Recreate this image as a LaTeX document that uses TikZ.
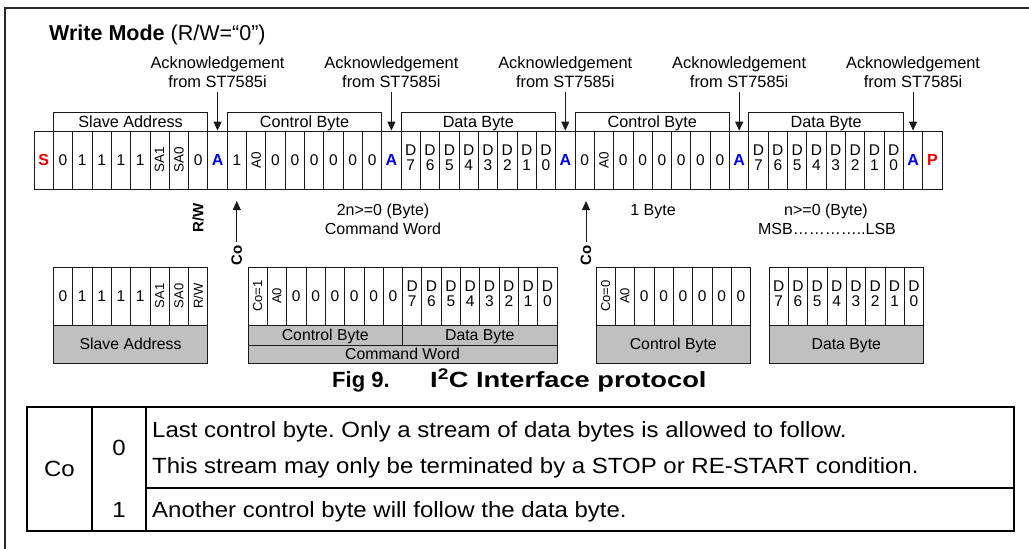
\documentclass[tikz,border=0pt]{standalone}
\usepackage{fontspec}
\setmainfont{Liberation Sans}
\newfontfamily\tblfont[FakeStretch=1.09]{Liberation Sans}
\newfontfamily\capwide[FakeStretch=1.24]{Liberation Sans}
\usetikzlibrary{arrows.meta}
\frenchspacing
\definecolor{framec}{RGB}{40,40,40}
\definecolor{linec}{RGB}{25,25,25}
\definecolor{grayfill}{RGB}{192,192,192}
\definecolor{ared}{RGB}{240,0,0}
\definecolor{ablue}{RGB}{0,0,240}
\newcommand\fs[1]{\fontsize{#1}{#1}\selectfont}
\newcommand\rt[1]{\rotatebox{90}{\fs{13.5}#1}}
\newcommand\rtb[1]{\rotatebox{90}{\fs{13}#1}}
\newcommand\dd[1]{\begin{tabular}{@{}c@{}}D\\#1\end{tabular}}
\newcommand\bitS{\textcolor{ared}{\bfseries\fs{16}S}}
\newcommand\bitP{\textcolor{ared}{\bfseries\fs{16}P}}
\newcommand\bitA{\textcolor{ablue}{\bfseries\fs{16}A}}
\tikzset{
  bit/.style={draw=linec, line width=0.8pt, minimum width=19.32pt, minimum height=58pt,
    inner sep=0pt, font=\fontsize{15.5}{15}\selectfont},
  lblbox/.style={draw=linec, line width=0.8pt, minimum width=154.56pt, minimum height=19pt,
    inner sep=0pt, text height=11.5pt, text depth=0pt, font=\fs{16.2}},
  ack/.style={align=center, inner sep=0pt, font=\fontsize{16.4}{19}\selectfont},
  arr/.style={draw=linec, line width=0.9pt, -{Triangle[length=9pt,width=8pt]}},
  lowtxt/.style={inner sep=0pt, font=\fs{16}},
  rotb/.style={rotate=90, inner sep=0pt, font=\bfseries\fs{15}},
  graybox/.style={draw=linec, line width=0.8pt, fill=grayfill, inner sep=0pt,
    text height=11.5pt, text depth=0pt, font=\fs{15.8}},
  tbl/.style={draw=black, line width=1.6pt},
  tbltxt/.style={inner sep=0pt, font=\tblfont\fs{22}}
}
\begin{document}
\begin{tikzpicture}[x=1pt,y=-1pt]
\useasboundingbox (0,0) rectangle (1029,549);
\fill[white] (0,0) rectangle (1029,549);
% frame
\draw[framec, line width=2.2pt] (5,549) -- (5,8) -- (1029,8);
% title
\node[anchor=base west, inner sep=0pt] (title) at (49,40)
  {\bfseries\fs{21.5}Write Mode \mdseries(R/W=“0”)};
% main row
\foreach \c [count=\i from 0] in {\bitS,0,1,1,1,1,{\rt{SA1}},{\rt{SA0}},0,\bitA,
  1,{\rt{A0}},0,0,0,0,0,0,\bitA,
  {\dd7},{\dd6},{\dd5},{\dd4},{\dd3},{\dd2},{\dd1},{\dd0},\bitA,
  0,{\rt{A0}},0,0,0,0,0,0,\bitA,
  {\dd7},{\dd6},{\dd5},{\dd4},{\dd3},{\dd2},{\dd1},{\dd0},\bitA,\bitP}
  \node[bit] (m\i) at ({34+(\i+0.5)*19.32},160) {\c};
% label boxes
\foreach \a/\b/\t [count=\k] in {1/8/Slave Address,10/17/Control Byte,19/26/Data Byte,
  28/35/Control Byte,37/44/Data Byte}
  \node[lblbox] (lb\k) at ({34+(\a+\b+1)/2*19.32},121.5) {\t};
% acknowledgements
\foreach \i [count=\k] in {9,18,27,36,45}{
  \node[ack] (ack\k) at ({34+(\i+0.5)*19.32},72) {Acknowledgement\\from ST7585i};
  \draw[arr, shorten <=4.5pt] (ack\k.south) -- (m\i.north);
}
% R/W and Co markers
\node[rotb] (rw) at (198.2,218) {R/W};
\node[rotb] (co1) at (236.8,255) {Co};
\coordinate (co1t) at (236.8,201);
\draw[arr, shorten <=3pt] (co1.east) -- (co1t);
\node[rotb] (co2) at (586,255) {Co};
\coordinate (co2t) at (586,201);
\draw[arr, shorten <=3pt] (co2.east) -- (co2t);
% lower texts
\node[lowtxt, anchor=base] (t1) at (383,215.5) {2n>=0 (Byte)};
\node[lowtxt, anchor=base] (t2) at (383,234.5) {Command Word};
\node[lowtxt, anchor=base] (t3) at (653,215.5) {1 Byte};
\node[lowtxt, anchor=base] (t4) at (826,215.5) {n>=0 (Byte)};
\node[lowtxt, anchor=base] (t5) at (827,234.5) {MSB…………..LSB};
% lower box 1
\foreach \c [count=\i from 0] in {0,1,1,1,1,{\rtb{SA1}},{\rtb{SA0}},{\rtb{R/W}}}
  \node[bit] (s\i) at ({53.3+(\i+0.5)*19.32},296) {\c};
\node[graybox, minimum width=154.56pt, minimum height=38pt] (sg) at (130.58,344) {Slave Address};
% lower box 2
\foreach \c [count=\i from 0] in {{\rtb{Co=1}},{\rtb{A0}},0,0,0,0,0,0,
  {\dd7},{\dd6},{\dd5},{\dd4},{\dd3},{\dd2},{\dd1},{\dd0}}
  \node[bit] (w\i) at ({248+(\i+0.5)*19.32},296) {\c};
\node[graybox, minimum width=154.56pt, minimum height=20pt] (wcb) at (325.28,335) {Control Byte};
\node[graybox, minimum width=154.56pt, minimum height=20pt] (wdb) at (479.84,335) {Data Byte};
\node[graybox, minimum width=309.12pt, minimum height=18pt] (wcw) at (402.56,354) {Command Word};
% lower box 3
\foreach \c [count=\i from 0] in {{\rtb{Co=0}},{\rtb{A0}},0,0,0,0,0,0}
  \node[bit] (c\i) at ({596+(\i+0.5)*19.32},296) {\c};
\node[graybox, minimum width=154.56pt, minimum height=38pt] (cg) at (673.28,344) {Control Byte};
% lower box 4
\foreach \c [count=\i from 0] in {{\dd7},{\dd6},{\dd5},{\dd4},{\dd3},{\dd2},{\dd1},{\dd0}}
  \node[bit] (d\i) at ({769+(\i+0.5)*19.32},296) {\c};
\node[graybox, minimum width=154.56pt, minimum height=38pt] (dg) at (846.28,344) {Data Byte};
% caption
\node[anchor=base west, inner sep=0pt, font=\bfseries\fs{22}] (capa) at (332,387.5) {Fig 9.};
\node[anchor=base west, inner sep=0pt, font=\capwide\bfseries\fs{22}] (capb) at (430,387.5)
  {I\textsuperscript{2}C Interface protocol};
% table
\draw[tbl] (27,407) rectangle (1014,531);
\draw[tbl] (92,407) -- (92,531);
\draw[tbl] (146,407) -- (146,531);
\draw[tbl] (146,488) -- (1014,488);
\node[tbltxt, anchor=base] (tco) at (59.5,476.7) {Co};
\node[tbltxt, anchor=base] (t0) at (119,455.7) {0};
\node[tbltxt, anchor=base] (t1b) at (119,517.7) {1};
\node[tbltxt, anchor=base west] (r1) at (152,437.7) {Last control byte. Only a stream of data bytes is allowed to follow.};
\node[tbltxt, anchor=base west] (r2) at (152,473.7) {This stream may only be terminated by a STOP or RE-START condition.};
\node[tbltxt, anchor=base west] (r3) at (152,517.7) {Another control byte will follow the data byte.};
\end{tikzpicture}
\end{document}
